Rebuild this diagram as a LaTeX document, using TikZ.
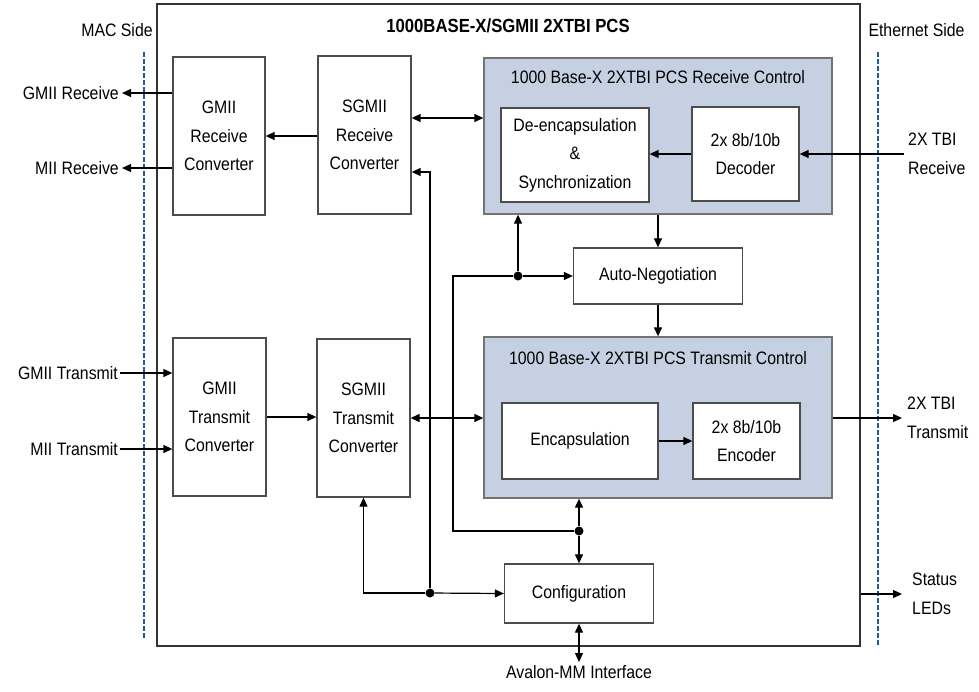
\documentclass[tikz,border=0pt]{standalone}
\usepackage{fontspec}
\setmainfont{Liberation Sans}[FakeStretch=0.88]
\usepackage{tikz}
\usetikzlibrary{arrows.meta,positioning,calc}
\definecolor{ctlblue}{HTML}{C5D0E2}
\definecolor{sideblue}{HTML}{1F5AA0}
\newcommand{\txtsize}{\fontsize{18}{28.5}\selectfont}

\begin{document}
\begin{tikzpicture}[x=1pt,y=-1pt,
    font=\txtsize,
    blk/.style={draw=black!70, line width=1.3pt, fill=white, align=center, inner sep=0pt},
    ctl/.style={draw=black!55, line width=1.3pt, fill=ctlblue, inner sep=0pt},
    arr/.style={-{Triangle[length=9pt,width=8pt]}, line width=1.2pt},
    dbl/.style={{Triangle[length=9pt,width=8pt]}-{Triangle[length=9pt,width=8pt]}, line width=1.2pt},
    link/.style={line width=1.2pt},
    jn/.style={circle, fill=black, inner sep=0pt, minimum size=9pt},
    sideline/.style={sideblue, line width=2pt, dash pattern=on 4.5pt off 2.5pt}]
    \useasboundingbox (0,0) rectangle (979,691);

    % Outer PCS block
    \node[draw=black!80, line width=1.3pt, minimum width=703pt, minimum height=642pt, inner sep=0pt]
        (pcs) at (508.5,325) {};
    \node[font=\fontsize{19}{23}\selectfont\bfseries] (pcstitle) at (508,26) {1000BASE-X/SGMII 2XTBI PCS};

    % Sides
    \node (macside) at (117,30) {MAC Side};
    \node (ethside) at (916.5,30) {Ethernet Side};
    \draw[sideline] (144,52) -- (144,640);
    \draw[sideline] (878,52) -- (878,647);

    % Receive path
    \node[blk, minimum width=92pt, minimum height=158pt] (gmiirx) at (219,136) {GMII\\Receive\\Converter};
    \node[blk, minimum width=93pt, minimum height=158pt] (sgmiirx) at (364.5,135) {SGMII\\Receive\\Converter};
    \node[ctl, minimum width=348pt, minimum height=156pt] (rxctl) at (658,136) {};
    \node (rxtitle) at (658,77) {1000 Base-X 2XTBI PCS Receive Control};
    \node[blk, minimum width=148pt, minimum height=94pt] (deenc) at (575,155) {De-encapsulation\\\&\\Synchronization};
    \node[blk, minimum width=107pt, minimum height=94pt] (decoder) at (745.5,154) {2x 8b/10b\\Decoder};

    % Auto-negotiation
    \node[blk, minimum width=169pt, minimum height=56pt] (autoneg) at (658,276) {Auto-Negotiation};

    % Transmit path
    \node[blk, minimum width=93pt, minimum height=158pt] (gmiitx) at (219.5,417) {GMII\\Transmit\\Converter};
    \node[blk, minimum width=93pt, minimum height=158pt] (sgmiitx) at (363.5,418) {SGMII\\Transmit\\Converter};
    \node[ctl, minimum width=348pt, minimum height=161pt] (txctl) at (658,417.5) {};
    \node (txtitle) at (658,358) {1000 Base-X 2XTBI PCS Transmit Control};
    \node[blk, minimum width=156pt, minimum height=76pt] (encap) at (580,441) {Encapsulation};
    \node[blk, minimum width=107pt, minimum height=76pt] (encoder) at (746.5,441) {2x 8b/10b\\Encoder};

    % Configuration
    \node[blk, minimum width=149pt, minimum height=59pt] (config) at (579,593.5) {Configuration};
    \node[anchor=north, inner sep=3pt] (avalon) at (579,662) {Avalon-MM Interface};

    % Outside labels
    \node[anchor=east, inner sep=3pt] (gmiirxout) at (122,93) {GMII Receive};
    \node[anchor=east, inner sep=3pt] (miirxout) at (122,168) {MII Receive};
    \node[anchor=east, inner sep=2pt] (gmiitxin) at (120,373) {GMII Transmit};
    \node[anchor=east, inner sep=2pt] (miitxin) at (120,449) {MII Transmit};
    \node[anchor=west, align=left, inner sep=4pt] (tbirx) at (904,154) {2X TBI\\Receive};
    \node[anchor=west, align=left, inner sep=5pt] (tbitx) at (902,418) {2X TBI\\Transmit};
    \node[anchor=west, align=left, inner xsep=10pt, inner ysep=2pt] (status) at (902,594) {Status\\LEDs};

    % Junctions
    \node[jn] (jneg) at (518,276) {};
    \node[jn] (jtx) at (579,531) {};
    \node[jn] (jcfg) at (430,593) {};
    \coordinate (bend) at (453,531);

    % Receive connectors
    \draw[arr] (gmiirx.west |- gmiirxout) -- (gmiirxout.east);
    \draw[arr] (gmiirx.west |- miirxout) -- (miirxout.east);
    \draw[arr] (sgmiirx.west |- gmiirx) -- (gmiirx.east);
    \draw[dbl] ([yshift=17pt]sgmiirx.east) -- ([yshift=17pt]sgmiirx.east -| rxctl.west);
    \draw[arr] (decoder.west) -- (deenc.east |- decoder.west);
    \draw[arr] (tbirx.west) -- (decoder.east);

    % Control connectors
    \draw[arr] (rxctl.south -| autoneg) -- (autoneg.north);
    \draw[arr] (autoneg.south) -- (txctl.north -| autoneg);
    \draw[arr] (jneg) -- (jneg |- rxctl.south);
    \draw[arr] (jneg) -- (autoneg.west);
    \draw[link] (jtx) -- (bend) |- (jneg);
    \draw[arr] (jtx) -- (jtx |- txctl.south);
    \draw[arr] (jtx) -- (config.north);
    \draw[arr] (jcfg) -- (config.west);
    \draw[arr] (jcfg) -| (sgmiitx.south);
    \draw[arr] (jcfg) |- ([yshift=-37pt]sgmiirx.east);
    \draw[dbl] (config.south) -- (avalon.north);

    % Transmit connectors
    \draw[arr] (gmiitxin.east) -- (gmiitx.west |- gmiitxin);
    \draw[arr] (miitxin.east) -- (gmiitx.west |- miitxin);
    \draw[arr] (gmiitx.east) -- (sgmiitx.west |- gmiitx.east);
    \draw[dbl] (sgmiitx.east) -- (txctl.west |- sgmiitx.east);
    \draw[arr] (encap.east) -- (encoder.west);
    \draw[arr] (txctl.east |- tbitx.west) -- (tbitx.west);
    \draw[arr] (pcs.east |- status.west) -- (status.west);
\end{tikzpicture}
\end{document}
